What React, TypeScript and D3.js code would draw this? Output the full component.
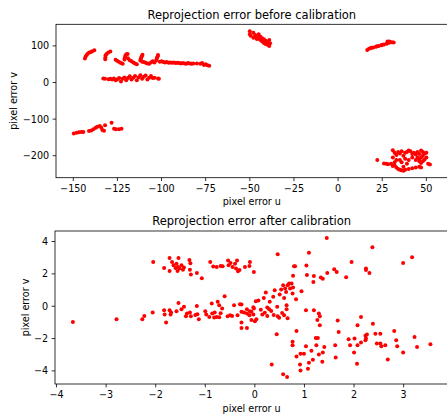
import React from "react";
import * as d3 from "d3";

// Reprojection errors (u, v) before calibration
const beforeErrors: [number, number][] = [
  // upper-left arcs
  [-143.4, 65.5], [-143, 71], [-142.4, 75.5], [-141.7, 79], [-140.9, 82], [-140, 83.6], [-139.2, 85.5], [-138.1, 88],
  [-131.9, 63.6], [-131.8, 69], [-131.7, 74.5], [-131.1, 78], [-130.2, 82], [-129, 84.5],
  [-126, 62], [-125, 59], [-124, 56], [-123, 53], [-122, 51],
  [-121, 63], [-120.8, 68], [-120.5, 73], [-120, 77], [-119.2, 78], [-119, 66], [-118, 61], [-117, 58], [-116, 55], [-115, 52], [-114, 50],
  [-112, 60], [-111.8, 64], [-111.5, 68], [-111.2, 72], [-110.8, 76], [-111, 57], [-110, 56], [-109, 54], [-108, 52], [-107, 51], [-106, 55], [-105, 58],
  [-103, 60], [-102.8, 64], [-102.5, 68], [-102.2, 72], [-102, 75], [-104, 55], [-101, 57], [-100, 58], [-99, 56], [-98, 55], [-97, 56], [-96, 54],
  [-95, 55], [-94, 54], [-93, 55], [-92, 53], [-91, 54], [-90, 53], [-89, 52], [-88, 53], [-87, 52], [-86, 51], [-85, 53], [-84, 52], [-83, 51],
  [-82, 52], [-80, 52], [-78, 51], [-77, 53], [-76, 48], [-75, 50], [-74, 47], [-73, 46],
  // row near v = 10
  [-133, 11], [-132, 10], [-130, 9], [-129, 10], [-128, 8], [-127, 11], [-126, 6], [-125, 9], [-124, 12], [-123, 3], [-122, 10], [-121, 14],
  [-120, 6], [-119, 12], [-118, 17], [-117, 8], [-116, 13], [-115, 18], [-114, 6], [-113, 14], [-112, 20], [-111, 10], [-110, 16], [-109, 19],
  [-108, 8], [-107, 13], [-106, 18], [-105, 12], [-104, 13], [-102, 11], [-101.5, 10],
  // lower-left
  [-149.7, -139], [-148.1, -137], [-146.8, -136], [-145.5, -135.5], [-144.3, -135.5], [-141.1, -132.7], [-139.8, -131], [-138.6, -128],
  [-137.3, -123.6], [-136.4, -121], [-135, -119], [-134.1, -123.6], [-133.5, -130], [-132.6, -131.8], [-132, -117], [-128.3, -110],
  [-126.9, -126], [-125.8, -128], [-124.1, -128], [-122.7, -126],
  // cluster near u = -45
  [-50, 140], [-50, 132], [-49.5, 128], [-48, 136], [-47, 130], [-47, 124], [-46, 127], [-45, 120], [-45, 132], [-44, 125], [-44, 116],
  [-43, 121], [-43, 112], [-42, 118], [-42, 108], [-41, 114], [-41, 105], [-40, 110], [-40, 103], [-39, 116], [-39, 100], [-38.5, 107],
  [-46, 119], [-48, 122],
  // arc near u = 25
  [16.5, 89], [17.5, 92], [18.5, 94], [19, 95], [20, 96], [21.5, 98], [22, 99], [23, 100], [24.5, 102], [25, 103], [26, 104], [27.5, 106],
  [28.5, 108], [28, 112], [29, 112], [29.5, 110], [30.5, 110], [31.5, 109],
  // lower-right cluster
  [22.2, -212], [26, -221], [27.4, -222], [28.3, -223],
  [31, -185], [32, -192], [33, -198], [31, -205], [30, -222], [31, -228], [32, -226], [33, -232], [34, -236], [35, -238], [36, -240], [37, -241],
  [38, -238], [40, -236], [42, -234], [44, -232], [46, -230], [47, -232], [34, -190], [35, -194], [36, -188], [37, -200], [38, -192], [39, -190],
  [40, -186], [41, -188], [42, -195], [43, -192], [44, -197], [45, -190], [46, -195], [47, -186], [48, -190], [49, -194], [50, -192], [51, -222],
  [52, -224], [48, -200], [47, -205], [46, -210], [45, -205], [49, -210], [48, -215], [47, -220], [46, -215], [50, -205], [38, -208], [36, -218],
  [35, -212], [39, -222], [37, -230], [33, -212], [32, -218], [44, -212], [42, -205], [40, -212],
];

// Reprojection errors (u, v) after calibration
const afterErrors: [number, number][] = [
  [-2.05, 2.73], [-1.83, 2.37], [-1.72, 2.98], [-1.72, 2.18], [-1.67, 2.73], [-1.64, 2.53], [-1.6, 2.37], [-1.58, 2.63], [-1.55, 2.43],
  [-1.54, 2.98], [-1.56, 2.18], [-1.52, 2.33], [-1.48, 2.53], [-1.45, 2.26], [-1.43, 2.4], [-1.32, 2.86], [-1.3, 2.65], [-1.31, 2.26],
  [-1.29, 1.96], [-1.17, 2.06], [-1.07, 1.73], [-0.9, 2.73], [-0.84, 2.45], [-0.77, 2.43], [-0.69, 2.49], [-0.65, 2.47], [-0.54, 2.82],
  [-0.53, 2.53], [-0.49, 2.67], [-0.45, 2.43], [-0.4, 2.63], [-0.36, 2.82], [-0.38, 2.33], [-0.34, 2.16], [-0.31, 2.24], [-0.2, 2.43],
  [-0.11, 2.49], [-0.1, 2.73], [-0.02, 2.12],
  [-3.67, -0.97], [-2.79, -0.8], [-2.27, -0.8], [-2.23, -0.6], [-2.06, -0.39], [-1.83, -0.25], [-1.82, -0.51], [-1.79, -1.01], [-1.72, -0.25],
  [-1.7, -0.51], [-1.69, -0.39], [-1.58, -0.31], [-1.54, 0.2], [-1.48, -0.19], [-1.43, -0.04], [-1.39, -0.62], [-1.37, -0.45], [-1.31, -0.39],
  [-1.29, -0.62], [-1.17, 0.02], [-1.16, -0.49], [-1.13, -0.8], [-1.2, -0.55], [-1.0, -0.31], [-0.98, -0.51], [-0.87, 0.17], [-0.86, -0.45],
  [-0.81, -0.39], [-0.77, -0.66], [-0.92, -0.66], [-0.82, -0.7], [-0.72, -0.68], [-0.75, 0.27], [-0.72, 0.06], [-0.69, -0.43], [-0.66, -0.14],
  [-0.61, 0.62], [-0.55, -0.62], [-0.5, -0.56], [-0.46, -0.6], [-0.42, 0.06], [-0.35, -0.56], [-0.27, 0.1], [-0.27, -1.01], [-0.27, -1.34],
  [-0.22, -0.39], [-0.16, -1.34], [-0.16, -0.45], [-0.11, -0.56], [-0.07, -0.35], [-0.07, -0.86], [-0.03, -0.51], [-0.02, -0.14],
  [-0.3, 0.12], [-0.27, -0.35], [-0.16, -0.19], [-0.1, -0.31], [-0.03, -0.06], [0.0, -0.93], [0.03, -0.8], [0.02, 0.31], [0.07, 0.35],
  [0.18, 0.51], [0.22, 0.84], [0.2, -0.41], [0.25, -0.6], [0.25, -0.08], [0.29, -0.19], [0.37, 0.58], [0.4, 0.99], [0.45, -0.04], [0.46, -0.62],
  [0.49, -0.72], [0.5, 0.72], [0.53, 1.03], [0.57, 1.3], [0.59, -0.56], [0.59, 0.51], [0.61, 1.09], [0.63, 0.88], [0.64, 0.06], [0.64, -0.19],
  [0.66, 1.3], [0.69, 1.4], [0.74, 1.4], [0.71, 1.09], [0.77, 1.15], [0.76, 0.78], [0.83, 0.43], [0.94, 0.93], [0.12, -0.22], [0.15, -0.52],
  [0.33, -0.3], [0.38, -0.55], [0.3, 0.28], [0.66, -0.74], [0.55, -0.42],
  [1.45, 4.22], [0.46, 3.21], [1.09, 3.31], [2.37, 3.64], [3.17, 3.02], [2.99, 2.67], [1.95, 2.73], [0.79, 2.47], [0.81, 2.47], [1.04, 2.51],
  [2.24, 2.33], [2.24, 2.24], [2.31, 2.06], [1.6, 2.28], [1.65, 2.12], [1.46, 2.06], [1.84, 1.79], [1.05, 1.93], [1.19, 1.87], [1.33, 1.77],
  [1.37, 1.69], [1.18, 1.5], [0.77, 1.89],
  [0.44, -1.73], [0.34, -3.6], [0.57, -4.2], [0.65, -4.38], [0.84, -1.54], [0.76, -2.2], [0.76, -2.41], [1.03, -0.25], [1.19, -0.25],
  [1.29, -0.45], [1.31, -0.62], [1.26, -0.86], [1.31, -1.17], [1.67, -0.88], [1.69, -1.59], [1.23, -1.96], [1.27, -1.96], [1.03, -2.47],
  [1.14, -2.76], [1.24, -2.41], [1.4, -2.53], [1.37, -2.86], [1.29, -2.98], [0.84, -3.11], [0.92, -2.94], [0.99, -2.94], [0.91, -3.6],
  [0.92, -3.97], [1.07, -3.87], [1.09, -3.5], [1.17, -3.31], [1.36, -3.44], [1.62, -2.41], [1.63, -3.17], [1.89, -2.04], [1.92, -2.41],
  [2.0, -2.86], [2.06, -3.56], [2.01, -1.99], [2.07, -1.17], [2.07, -2.41], [2.14, -0.66], [2.14, -2.24], [2.23, -1.83], [2.23, -2.1],
  [2.26, -1.75], [2.24, -1.99], [2.38, -1.09], [2.43, -1.71], [2.53, -1.71], [2.46, -2.3], [2.53, -2.3], [2.55, -2.47], [2.63, -2.41],
  [2.68, -3.29], [2.81, -1.54], [2.85, -2.1], [2.87, -2.47], [2.99, -2.86], [3.22, -1.91], [3.27, -2.53], [3.54, -2.35],
];

const beforeXTicks = [-150, -125, -100, -75, -50, -25, 0, 25, 50];
const beforeYTicks = [-200, -100, 0, 100];
const afterXTicks = [-4, -3, -2, -1, 0, 1, 2, 3];
const afterYTicks = [-4, -2, 0, 2, 4];
const chartTitles = ["Reprojection error before calibration", "Reprojection error after calibration"];
const xLabel = "pixel error u";
const yLabel = "pixel error v";

const FONT = "'DejaVu Sans', sans-serif";
const TICK_FS = 9.6;
const LABEL_FS = 9.6;
const TITLE_FS = 11.5;

function padded(vals: number[]): [number, number] {
  const [lo, hi] = d3.extent(vals) as [number, number];
  const m = (hi - lo) * 0.05;
  return [lo - m, hi + m];
}

const fmt = (v: number) => (v < 0 ? "\u2212" + Math.abs(v) : String(v));

type PanelProps = {
  data: [number, number][];
  xTicks: number[];
  yTicks: number[];
  box: { left: number; right: number; top: number; bottom: number };
  title: string;
  yLabelX: number;
};

function Panel({ data, xTicks, yTicks, box, title, yLabelX }: PanelProps) {
  const x = d3.scaleLinear().domain(padded(data.map((d) => d[0]))).range([box.left, box.right]);
  const y = d3.scaleLinear().domain(padded(data.map((d) => d[1]))).range([box.bottom, box.top]);
  const tl = 3.4;
  const cx = (box.left + box.right) / 2;
  const cy = (box.top + box.bottom) / 2;
  return (
    <g>
      <text x={cx} y={box.top - 5.8} textAnchor="middle" fontSize={TITLE_FS} fontFamily={FONT} fill="#000">
        {title}
      </text>
      {data.map((d, i) => (
        <circle key={i} cx={x(d[0])} cy={y(d[1])} r={2} fill="#ff0000" />
      ))}
      <rect x={box.left} y={box.top} width={box.right - box.left} height={box.bottom - box.top} fill="none" stroke="#000" strokeWidth={0.8} />
      {xTicks.map((t) => (
        <g key={"x" + t}>
          <line x1={x(t)} x2={x(t)} y1={box.bottom} y2={box.bottom + tl} stroke="#000" strokeWidth={0.8} />
          <text x={x(t)} y={box.bottom + 2 * tl + 7} textAnchor="middle" fontSize={TICK_FS} fontFamily={FONT} fill="#000">
            {fmt(t)}
          </text>
        </g>
      ))}
      {yTicks.map((t) => (
        <g key={"y" + t}>
          <line x1={box.left - tl} x2={box.left} y1={y(t)} y2={y(t)} stroke="#000" strokeWidth={0.8} />
          <text x={box.left - 2 * tl} y={y(t) + 3.5} textAnchor="end" fontSize={TICK_FS} fontFamily={FONT} fill="#000">
            {fmt(t)}
          </text>
        </g>
      ))}
      <text x={cx} y={box.bottom + 27.6} textAnchor="middle" fontSize={LABEL_FS} fontFamily={FONT} fill="#000">
        {xLabel}
      </text>
      <text
        transform={`translate(${yLabelX},${cy}) rotate(-90)`}
        textAnchor="middle"
        fontSize={LABEL_FS}
        fontFamily={FONT}
        fill="#000"
      >
        {yLabel}
      </text>
    </g>
  );
}

export default function App() {
  return (
    <svg
      width={447}
      height={419}
      style={{ position: "absolute", left: 0, top: 0, background: "#fff" }}
    >
      <rect width={447} height={419} fill="#fff" />
      <Panel
        data={beforeErrors}
        xTicks={beforeXTicks}
        yTicks={beforeYTicks}
        box={{ left: 56, right: 447.7, top: 24.3, bottom: 177.7 }}
        title={chartTitles[0]}
        yLabelX={16.6}
      />
      <Panel
        data={afterErrors}
        xTicks={afterXTicks}
        yTicks={afterYTicks}
        box={{ left: 55, right: 448.3, top: 231, bottom: 384 }}
        title={chartTitles[1]}
        yLabelX={29}
      />
    </svg>
  );
}
